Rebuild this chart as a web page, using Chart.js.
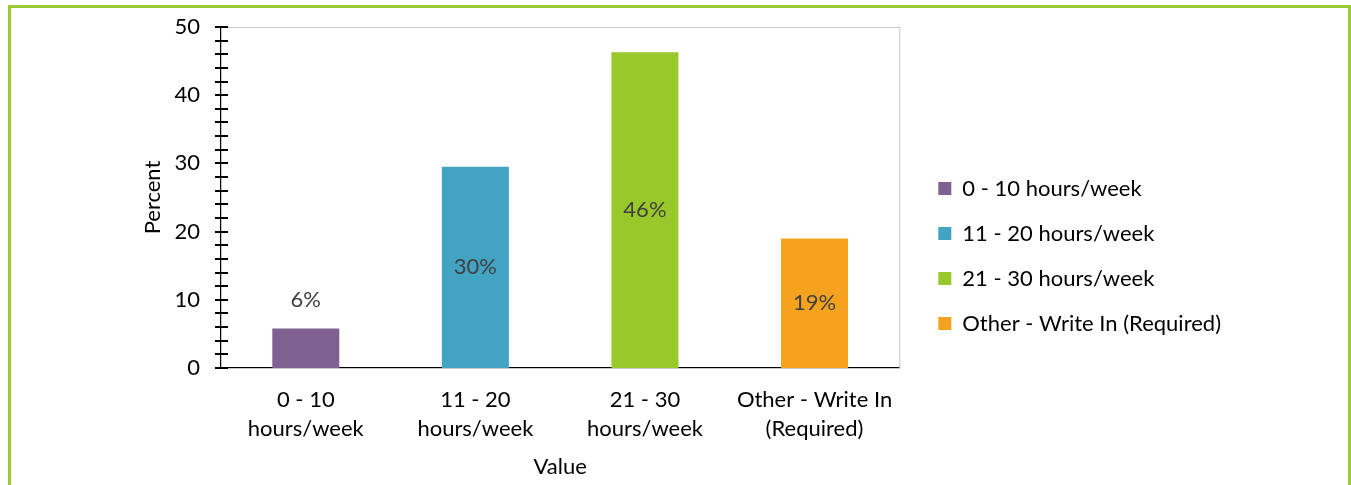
<!DOCTYPE html>
<html>
<head>
<meta charset="utf-8">
<script src="https://cdn.jsdelivr.net/npm/chart.js@4"></script>
<style>
  html, body { margin: 0; padding: 0; background: #fff; overflow: hidden; }
  #frame { position: absolute; left: 8px; top: 5px; width: 1337px; height: 500px; border: 3px solid #9ccc34; }
  #wrap { position: absolute; left: 0; top: 0; width: 1351px; height: 485px; }
</style>
</head>
<body>
<div id="frame"></div>
<div id="wrap"><canvas id="graph"></canvas></div>
<script>
const categories = [['0 - 10', 'hours/week'], ['11 - 20', 'hours/week'], ['21 - 30', 'hours/week'], ['Other - Write In', '(Required)']];
const legendNames = ['0 - 10 hours/week', '11 - 20 hours/week', '21 - 30 hours/week', 'Other - Write In (Required)'];
const percents = [5.8, 29.5, 46.3, 19.0];
const pctLabels = ['6%', '30%', '46%', '19%'];
const colors = ['#7e6091', '#42a3c3', '#98c82a', '#f5a31f'];
const yTicks = [0, 10, 20, 30, 40, 50];

const FONT = 'Lato, "Open Sans", sans-serif';

// gray box round the plot plus crossing tick marks on the y axis
const plotFrame = {
  id: 'plotFrame',
  beforeDatasetsDraw(chart) {
    const {ctx, chartArea: a} = chart;
    ctx.save();
    ctx.strokeStyle = '#c8c8c8';
    ctx.lineWidth = 1;
    ctx.strokeRect(a.left + 0.5, a.top + 0.5, a.right - a.left, a.bottom - a.top);
    ctx.restore();
  },
  afterDraw(chart) {
    const {ctx, chartArea: a, scales: {y}} = chart;
    ctx.save();
    ctx.strokeStyle = '#000';
    ctx.lineWidth = 2;
    for (let v = 0; v <= 50; v += 2) {
      const py = Math.round(y.getPixelForValue(v));
      ctx.beginPath();
      ctx.moveTo(a.left - 6, py);
      ctx.lineTo(a.left + 7, py);
      ctx.stroke();
    }
    ctx.restore();
  }
};

const barLabels = {
  id: 'barLabels',
  afterDatasetsDraw(chart) {
    const {ctx} = chart;
    const meta = chart.getDatasetMeta(0);
    ctx.save();
    ctx.font = '22px ' + FONT;
    ctx.fillStyle = '#404040';
    ctx.textAlign = 'center';
    ctx.textBaseline = 'middle';
    meta.data.forEach((bar, i) => {
      const h = bar.base - bar.y;
      const ty = h > 50 ? (bar.y + bar.base) / 2 : bar.y - 29;
      ctx.fillText(pctLabels[i], bar.x, ty);
    });
    ctx.restore();
  }
};

const ctx = document.getElementById('graph');
new Chart(ctx, {
  type: 'bar',
  data: {
    labels: categories,
    datasets: [{
      label: 'Percent',
      data: percents,
      backgroundColor: colors,
      categoryPercentage: 1,
      barPercentage: 0.395
    }]
  },
  options: {
    responsive: true,
    maintainAspectRatio: false,
    animation: false,
    layout: { padding: { left: 140, top: 27, right: 120, bottom: 0 } },
    plugins: {
      tooltip: { enabled: false },
      legend: {
        position: 'right',
        align: 'center',
        maxWidth: 500,
        labels: {
          font: { family: FONT, size: 22 },
          color: '#000',
          boxWidth: 13,
          boxHeight: 13,
          padding: 23,
          generateLabels: () => legendNames.map((n, i) => ({
            text: n, fillStyle: colors[i], strokeStyle: colors[i], fontColor: '#000',
            lineWidth: 0, hidden: false, index: i
          }))
        },
        onClick: () => {}
      }
    },
    scales: {
      x: {
        grid: { display: false, drawTicks: false },
        border: { display: true, color: '#000', width: 2 },
        ticks: { font: { family: FONT, size: 22, lineHeight: 1.32 }, color: '#000', padding: 17, maxRotation: 0 },
        title: { display: true, text: 'Value', font: { family: FONT, size: 22 }, color: '#000', padding: { top: 0, bottom: 5 } },
        afterFit: s => { s.height = 117; }
      },
      y: {
        min: 0,
        max: 50,
        grid: { display: false, drawTicks: false },
        border: { display: true, color: '#000', width: 2 },
        afterBuildTicks: s => { s.ticks = yTicks.map(v => ({ value: v })); },
        ticks: { font: { family: FONT, size: 22 }, color: '#000', padding: 21 },
        title: { display: true, text: 'Percent', font: { family: FONT, size: 22 }, color: '#000', padding: 0 },
        afterFit: s => { s.width = 81; s.paddingTop = 0; s.paddingBottom = 0; }
      },
      gap: {
        position: 'right',
        display: true,
        grid: { display: false, drawTicks: false },
        border: { display: false },
        ticks: { display: false },
        afterFit: s => { s.width = 16; }
      }
    }
  },
  plugins: [plotFrame, barLabels]
});
</script>
</body>
</html>
